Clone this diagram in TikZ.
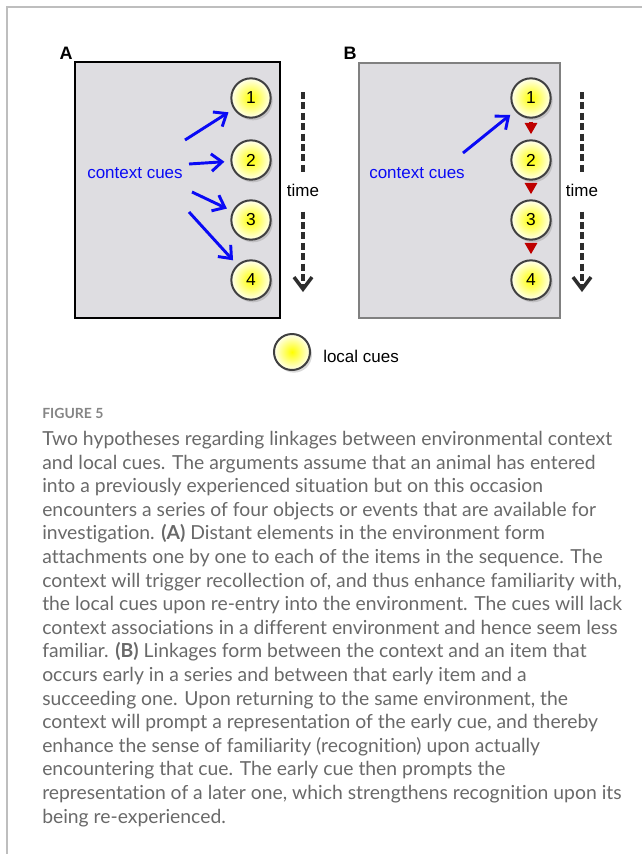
\documentclass[tikz,border=0pt]{standalone}
\usepackage{fontspec}
\setmainfont{Lato}[Ligatures=CommonOff]
\newfontfamily\dia{Liberation Sans}
\usetikzlibrary{arrows.meta, shadows}
\definecolor{panel}{RGB}{222,221,225}
\definecolor{framegray}{RGB}{190,190,190}
\definecolor{capgray}{RGB}{105,105,105}
\definecolor{cueblue}{RGB}{10,10,245}
\definecolor{linkred}{RGB}{190,0,0}
\definecolor{timegray}{RGB}{45,45,45}
\tikzset{
	cue/.style={circle, draw=black!75, line width=1.5pt, minimum size=29.5pt, inner sep=0pt,
		shading=radial, inner color=yellow, outer color=yellow!6!white,
		drop shadow={opacity=.3, shadow xshift=1.5pt, shadow yshift=-2pt},
		font=\dia\fontsize{13}{13}\selectfont},
	ctx/.style={-{Straight Barb[length=8pt,width=13pt]}, cueblue, line width=2.2pt, shorten >=4.5pt},
	link/.style={-{Triangle[length=8.5pt,width=9pt]}, linkred, line width=2.4pt, shorten <=2.2pt, shorten >=3.8pt},
	timeline/.style={timegray, line width=2.6pt, dash pattern=on 5.2pt off 2.6pt},
	panellabel/.style={font=\dia\bfseries\fontsize{13.5}{14}\selectfont},
	ctxtext/.style={cueblue, font=\dia\fontsize{12.75}{14}\selectfont}
}
\newcommand{\timearrow}[2]{% #1 = x, #2 = name
	\node[font=\dia\fontsize{12.75}{14}\selectfont] (#2) at (#1,190) {time};
	\coordinate (#2top) at (#1,92);
	\coordinate (#2end) at (#1,292);
	\draw[timeline, shorten >=4pt] (#2top) -- (#2.north);
	\draw[timeline, shorten <=8pt, -{Straight Barb[length=9pt,width=13.5pt]}] (#2.south) -- (#2end);
}

\begin{document}
\begin{tikzpicture}[x=0.75pt, y=-0.75pt]
	\useasboundingbox (0,0) rectangle (642,854);
	\draw[framegray, line width=1pt] (642,7) -- (7,7) -- (7,854);
	% the two panels
	\draw[line width=1.5pt, fill=panel] (75,62) rectangle (280,318);
	\draw[gray, line width=1.5pt, fill=panel] (359,63) rectangle (560,318);
	\node[panellabel] (labA) at (66,53) {A};
	\node[panellabel] (labB) at (350,53) {B};
	\foreach \n/\y in {1/98, 2/160, 3/220, 4/280}{
		\node[cue] (a\n) at (251,\y) {\n};
		\node[cue] (b\n) at (531,\y) {\n};
	}
	% panel A: context to every cue
	\node[ctxtext] (ctxA) at (135,173) {context cues};
	\foreach \x/\y/\n in {185/140/1, 189/164/2, 192/192/3, 189/212/4}{
		\coordinate (sa\n) at (\x,\y);
		\draw[ctx] (sa\n) -- (a\n);
	}
	\timearrow{303}{timeA}
	% panel B: context to first cue, then cue to cue
	\node[ctxtext] (ctxB) at (417,173) {context cues};
	\coordinate (sb1) at (463,153);
	\draw[ctx] (sb1) -- (b1);
	\foreach \n [count=\m from 2] in {1,2,3}
		\draw[link] (b\n) -- (b\m);
	\timearrow{582}{timeB}
	% legend
	\node[cue, minimum size=27pt] (leg) at (292,352) {};
	\node[anchor=west, inner sep=0pt, font=\dia\fontsize{12.75}{14}\selectfont] (legtext) at (323,356) {local cues};
	% caption
	\node[anchor=base west, inner sep=0pt, text=framegray!70!black, font=\bfseries\fontsize{10.5}{12}\selectfont] (fig) at (42,418) {FIGURE 5};
	\node[anchor=base west, inner sep=0pt, align=left, text=capgray, font=\fontsize{14.5}{17.7}\selectfont] (cap) at (42,823) {Two hypotheses regarding linkages between environmental context\\
		and local cues. The arguments assume that an animal has entered\\
		into a previously experienced situation but on this occasion\\
		encounters a series of four objects or events that are available for\\
		investigation. \textbf{(A)} Distant elements in the environment form\\
		attachments one by one to each of the items in the sequence. The\\
		context will trigger recollection of, and thus enhance familiarity with,\\
		the local cues upon re-entry into the environment. The cues will lack\\
		context associations in a different environment and hence seem less\\
		familiar. \textbf{(B)} Linkages form between the context and an item that\\
		occurs early in a series and between that early item and a\\
		succeeding one. Upon returning to the same environment, the\\
		context will prompt a representation of the early cue, and thereby\\
		enhance the sense of familiarity (recognition) upon actually\\
		encountering that cue. The early cue then prompts the\\
		representation of a later one, which strengthens recognition upon its\\
		being re-experienced.};
\end{tikzpicture}
\end{document}
